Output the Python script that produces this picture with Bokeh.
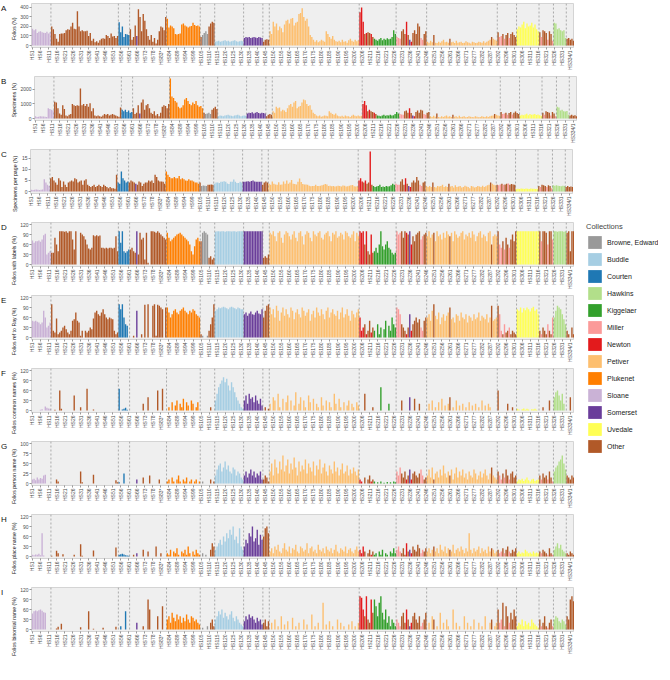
import math
from bokeh.plotting import figure
from bokeh.models import ColumnDataSource, FixedTicker, Span, Legend, LegendItem, Range1d, Title
from bokeh.layouts import column, row
from bokeh.embed import file_html
from bokeh.resources import INLINE
from bokeh.core.properties import value

FONT = "Liberation Sans"

# ---------------- data ----------------
collections = ["Browne, Edward", "Buddle", "Courten", "Hawkins", "Kiggelaer", "Miller",
               "Newton", "Petiver", "Plukenet", "Sloane", "Somerset", "Uvedale", "Other"]
colors = ["#999999", "#a6cee3", "#1f78b4", "#b2df8a", "#33a02c", "#fb9a99",
          "#e31a1c", "#fdbf6f", "#ff7f00", "#cab2d6", "#6a3d9a", "#ffff55", "#b15928"]

# collection of each volume, as runs (name, number of volumes)
collection_runs = [
    ("Sloane", 12), ("Other", 42), ("Courten", 7), ("Other", 4), ("Somerset", 1), ("Other", 18),
    ("Plukenet", 21), ("Other", 1), ("Browne, Edward", 4), ("Other", 4), ("Buddle", 18),
    ("Somerset", 12), ("Other", 4), ("Petiver", 56),
    ("Newton", 3), ("Other", 1), ("Newton", 1), ("Other", 2), ("Newton", 1), ("Other", 1),
    ("Kiggelaer", 14),
    ("Miller", 3), ("Other", 3), ("Newton", 1), ("Other", 1), ("Somerset", 1), ("Newton", 1),
    ("Other", 5), ("Miller", 2), ("Other", 2),
    ("Petiver", 4), ("Other", 1), ("Petiver", 9), ("Other", 1), ("Petiver", 25), ("Other", 1), ("Petiver", 3),
    ("Other", 1), ("Miller", 2), ("Other", 1), ("Miller", 1), ("Other", 2), ("Miller", 1), ("Other", 4),
    ("Uvedale", 14),
    ("Other", 1), ("Miller", 1), ("Other", 3), ("Miller", 1), ("Other", 2), ("Miller", 1),
    ("Hawkins", 8), ("Other", 5),
]

# sizes of the blocks of volumes used below for every panel's values
block_sizes = [12, 42, 7, 23, 21, 9, 18, 12, 4, 56, 9, 14, 19, 44, 12, 14, 9, 8, 5]

# first volume of each group separated by a dotted line
group_starts = [12, 54, 61, 84, 105, 114, 132, 144, 148, 204, 227, 246, 290, 302, 316, 325, 333]

tick_labels = ["HS1", "HS6", "HS11", "HS16", "HS21", "HS26", "HS31", "HS36", "HS41", "HS46", "HS51",
               "HS56", "HS61", "HS66", "HS73", "HS78", "HS83*", "HS84", "HS89", "HS94", "HS99",
               "HS105", "HS110", "HS115", "HS120", "HS125", "HS130", "HS135", "HS140", "HS145",
               "HS150", "HS155", "HS160", "HS165", "HS170", "HS175", "HS180", "HS185", "HS190",
               "HS195", "HS200", "HS206", "HS211", "HS216", "HS221", "HS226", "HS231", "HS236",
               "HS241", "HS246", "HS251", "HS256", "HS261", "HS266", "HS271", "HS277", "HS282",
               "HS287", "HS292", "HS296", "HS301", "HS306", "HS311", "HS316", "HS321", "HS326",
               "HS331", "HS334/1"]

folios_n = [
    [175, 160, 170, 130, 145, 150, 140, 135, 130, 145, 125, 140],
    [200, 170, 120, 70, 40, 120, 125, 125, 130, 160, 170, 165, 200, 240, 175, 170, 360, 200, 150, 160,
     150, 150, 155, 100, 130, 50, 70, 35, 45, 30, 55, 70, 75, 70, 110, 100, 80, 125, 95, 100, 80, 100],
    [245, 140, 200, 90, 120, 115, 110],
    [170, 60, 90, 210, 100, 380, 300, 150, 330, 260, 170, 100, 60, 110, 40, 80, 20, 60, 150, 200, 190, 160, 300],
    [280, 190, 210, 200, 180, 120, 115, 120, 125, 220, 230, 210, 200, 190, 200, 205, 240, 215, 205, 210, 200],
    [90, 110, 130, 150, 120, 200, 230, 250, 240],
    [40, 45, 50, 40, 45, 50, 55, 45, 50, 40, 45, 50, 55, 45, 40, 45, 50, 45],
    [80, 90, 85, 90, 80, 85, 90, 85, 80, 90, 85, 80],
    [40, 60, 65, 60],
    [150, 120, 250, 200, 230, 160, 200, 180, 140, 220, 260, 270, 230, 280, 290, 210, 240, 250, 330, 340,
     390, 300, 260, 280, 200, 110, 90, 60, 40, 55, 35, 45, 60, 50, 40, 150, 120, 90, 70, 100,
     60, 45, 40, 50, 35, 60, 40, 45, 30, 55, 70, 50, 40, 60, 45, 55],
    [350, 400, 250, 120, 130, 140, 130, 120, 90],
    [70, 60, 50, 65, 80, 55, 70, 60, 75, 65, 70, 90, 160, 120],
    [90, 80, 70, 150, 170, 120, 250, 110, 60, 40, 130, 160, 120, 230, 200, 80, 60, 120, 150],
    [40, 30, 50, 35, 110, 30, 25, 40, 30, 45, 60, 35, 40, 30, 70, 35, 40, 25, 50, 30,
     35, 40, 25, 30, 45, 35, 30, 20, 40, 35, 25, 30, 40, 35, 30, 45, 30, 40, 50, 60, 90, 70, 60, 50],
    [140, 90, 100, 120, 70, 110, 130, 80, 120, 140, 110, 90],
    [170, 200, 190, 220, 250, 180, 230, 200, 210, 240, 190, 220, 170, 150],
    [140, 90, 160, 150, 130, 60, 150, 120, 50],
    [240, 230, 170, 180, 160, 150, 160, 80],
    [70, 80, 60, 70, 50],
]

specimens_n = [
    [150, 100, 120, 150, 130, 140, 120, 100, 700, 650, 600, 550],
    [1150, 1100, 700, 350, 250, 900, 650, 200, 150, 250, 300, 1000, 900, 850, 900, 880, 2050, 900, 1000, 850,
     1000, 800, 1050, 500, 700, 200, 150, 200, 150, 120, 200, 300, 250, 300, 200, 250, 300, 250, 200, 150, 120, 750],
    [600, 500, 600, 450, 550, 400, 450],
    [700, 300, 400, 900, 350, 1100, 1300, 600, 900, 1000, 700, 400, 300, 500, 200, 300, 150, 400, 800, 900, 850, 700, 1000],
    [2740, 1500, 1400, 1200, 1100, 800, 700, 750, 900, 1300, 1400, 1200, 1000, 900, 1100, 1000, 1200, 900, 800, 850, 700],
    [400, 300, 350, 400, 300, 600, 700, 800, 650],
    [150, 200, 180, 150, 200, 220, 250, 200, 180, 150, 200, 220, 250, 200, 150, 180, 200, 190],
    [350, 400, 380, 420, 350, 400, 450, 380, 350, 400, 380, 350],
    [150, 250, 300, 250],
    [500, 400, 800, 700, 750, 500, 600, 550, 450, 700, 900, 1000, 800, 1100, 1200, 700, 800, 850, 1100, 1300,
     1250, 1000, 850, 900, 600, 400, 300, 200, 150, 200, 120, 150, 200, 180, 150, 500, 400, 300, 250, 350,
     200, 150, 130, 180, 120, 200, 150, 160, 100, 180, 250, 180, 150, 200, 150, 180],
    [1000, 1200, 900, 500, 600, 500, 450, 400, 300],
    [200, 180, 150, 200, 250, 180, 220, 200, 250, 200, 220, 300, 450, 350],
    [300, 280, 250, 500, 550, 400, 700, 380, 200, 150, 450, 550, 400, 600, 550, 300, 250, 400, 450],
    [150, 100, 180, 120, 350, 100, 90, 150, 100, 160, 200, 120, 150, 100, 250, 120, 150, 90, 180, 100,
     120, 150, 90, 100, 160, 120, 100, 80, 150, 120, 90, 100, 150, 120, 100, 160, 100, 150, 180, 200, 300, 250, 200, 180],
    [450, 300, 350, 400, 250, 380, 450, 280, 400, 480, 380, 300],
    [200, 250, 230, 280, 320, 220, 300, 250, 270, 310, 240, 280, 220, 180],
    [400, 250, 500, 450, 400, 200, 450, 350, 150],
    [800, 750, 550, 600, 500, 480, 520, 250],
    [200, 250, 180, 220, 150],
]

specimens_per_page = [
    [0.8, 0.7, 0.8, 0.9, 0.8, 0.7, 0.8, 0.9, 5.5, 4.0, 3.0, 2.5],
    [6.0, 6.5, 5.0, 4.0, 3.0, 6.0, 5.0, 2.0, 4.5, 3.0, 2.0, 4.0, 4.5, 5.0, 4.5, 6.0, 5.5, 4.0, 4.5, 5.0,
     3.0, 5.0, 5.5, 3.0, 2.5, 2.0, 2.5, 3.0, 2.0, 2.5, 3.0, 2.5, 2.0, 3.0, 2.5, 2.0, 1.5, 2.0, 1.5, 1.5, 1.2, 7.5],
    [4.0, 3.5, 9.0, 6.0, 5.0, 4.0, 4.5],
    [4.0, 5.0, 4.5, 4.0, 3.5, 3.0, 4.5, 4.0, 2.5, 3.5, 4.0, 4.0, 5.0, 4.5, 5.0, 3.8, 7.5, 6.5, 5.0, 4.5, 4.5, 4.4, 3.5],
    [9.0, 7.5, 6.5, 6.0, 6.0, 6.5, 6.0, 6.0, 7.0, 5.5, 6.0, 5.5, 5.0, 4.8, 5.5, 5.0, 5.0, 4.5, 4.0, 4.1, 3.5],
    [4.0, 2.5, 2.7, 2.6, 2.5, 3.0, 3.0, 3.2, 3.0],
    [3.5, 4.0, 4.0, 3.8, 4.4, 4.4, 4.6, 4.4, 3.6, 3.4, 4.4, 4.4, 5.4, 4.4, 3.8, 3.8, 4.4, 4.0],
    [4.4, 4.4, 4.5, 4.6, 4.4, 4.7, 5.0, 4.5, 4.4, 4.4, 4.4, 4.4],
    [3.0, 4.0, 4.5, 4.0],
    [3.5, 3.0, 4.5, 3.5, 3.2, 3.0, 4.2, 3.0, 3.2, 4.5, 3.5, 5.0, 3.5, 4.0, 5.2, 3.5, 3.4, 3.2, 4.4, 5.8,
     4.3, 3.4, 3.2, 3.1, 3.0, 2.6, 2.4, 2.5, 2.5, 3.0, 2.5, 2.5, 2.6, 2.8, 3.0, 3.4, 3.2, 2.5, 2.6, 2.4,
     2.5, 2.3, 2.4, 2.6, 2.5, 2.3, 2.7, 2.6, 2.2, 2.4, 2.6, 2.8, 2.9, 2.4, 2.3, 2.4],
    [5.0, 6.0, 4.5, 4.0, 5.0, 3.5, 4.0, 18.0, 3.0],
    [2.5, 2.0, 2.2, 2.5, 3.0, 2.0, 2.3, 2.0, 2.5, 2.2, 2.4, 2.8, 3.5, 3.0],
    [3.5, 3.0, 3.0, 4.5, 5.5, 3.0, 6.0, 3.5, 2.5, 2.0, 4.0, 5.0, 4.0, 6.5, 5.0, 3.0, 2.5, 4.0, 4.5],
    [2.5, 2.0, 2.5, 2.0, 4.0, 2.0, 1.8, 2.5, 2.2, 2.5, 3.0, 2.0, 2.4, 2.0, 3.5, 2.2, 2.5, 1.8, 2.8, 2.0,
     2.2, 2.5, 1.8, 2.0, 2.6, 2.2, 2.0, 1.5, 2.5, 2.2, 1.8, 2.0, 2.5, 2.2, 2.0, 2.6, 2.0, 2.4, 2.8, 3.0, 4.0, 3.5, 3.0, 2.8],
    [3.0, 2.8, 3.2, 3.5, 3.0, 3.2, 3.5, 3.6, 3.0, 3.4, 3.2, 3.0],
    [1.0, 1.2, 1.1, 1.3, 1.2, 1.1, 1.3, 1.2, 1.1, 1.3, 1.2, 1.2, 1.1, 1.2],
    [2.5, 2.0, 3.0, 2.8, 2.5, 2.0, 2.8, 2.5, 1.5],
    [2.8, 2.6, 2.8, 2.6, 2.5, 2.4, 2.6, 2.5],
    [2.0, 2.5, 2.0, 2.2, 2.0],
]

pct_labels = [
    [72, 65, 70, 70, 72, 68, 75, 88, 92, 30, 35, 40],
    [35, 35, 80, 60, 40, 100, 100, 100, 98, 100, 95, 100, 100, 75, 45, 100, 0, 0, 95, 90,
     85, 75, 60, 48, 45, 50, 88, 85, 88, 85, 87, 50, 50, 48, 50, 48, 50, 50, 48, 50, 85, 40],
    [100, 65, 100, 40, 35, 40, 45],
    [45, 50, 40, 35, 100, 30, 95, 75, 80, 15, 95, 5, 0, 100, 100, 98, 95, 100, 95, 90, 85, 80, 75],
    [95, 80, 70, 75, 80, 85, 90, 92, 95, 90, 85, 80, 75, 70, 60, 40, 30, 55, 75, 80, 70],
    [70, 95, 100, 95, 90, 20, 25, 15, 20],
    [98, 100, 100, 99, 100, 100, 98, 100, 100, 100, 99, 100, 100, 98, 100, 100, 100, 100],
    [100, 100, 100, 100, 100, 100, 100, 100, 100, 100, 100, 100],
    [20, 25, 20, 30],
    [95, 90, 100, 85, 70, 95, 100, 80, 65, 90, 100, 95, 85, 75, 90, 100, 80, 70, 95, 100,
     85, 60, 90, 100, 95, 80, 70, 100, 90, 85, 95, 100, 80, 75, 90, 95, 100, 85, 70, 95,
     90, 100, 80, 85, 95, 90, 75, 100, 95, 85, 80, 90, 100, 70, 95, 85],
    [100, 95, 100, 60, 100, 40, 30, 90, 35],
    [40, 50, 35, 60, 100, 55, 45, 60, 70, 50, 45, 35, 30, 35],
    [100, 90, 95, 100, 80, 100, 95, 90, 100, 60, 85, 70, 90, 95, 100, 75, 85, 90, 95],
    [85, 100, 80, 90, 95, 70, 100, 85, 90, 75, 95, 80, 100, 90, 85, 95, 70, 100, 90, 80,
     85, 95, 100, 75, 90, 85, 95, 80, 100, 90, 70, 85, 95, 100, 80, 90, 85, 70, 95, 100, 60, 85, 90, 85],
    [100, 60, 50, 70, 45, 80, 60, 50, 75, 90, 70, 100],
    [100, 100, 100, 100, 100, 100, 100, 100, 100, 100, 100, 100, 100, 100],
    [100, 70, 100, 100, 95, 60, 100, 100, 75],
    [100, 100, 98, 100, 100, 100, 98, 100],
    [95, 100, 40, 100, 100],
]

pct_ray = [
    [50, 48, 50, 47, 45, 40, 45, 80, 60, 30, 35, 45],
    [100, 20, 15, 57, 10, 15, 20, 30, 35, 25, 15, 10, 20, 50, 55, 75, 50, 45, 5, 20,
     0, 20, 15, 20, 30, 25, 57, 75, 80, 70, 65, 75, 85, 70, 60, 55, 60, 57, 55, 20, 10, 15],
    [100, 85, 100, 60, 40, 35, 0],
    [0, 0, 5, 0, 80, 0, 0, 10, 0, 98, 0, 100, 0, 0, 95, 100, 5, 98, 95, 90, 85, 0, 90],
    [90, 75, 60, 70, 80, 85, 75, 70, 80, 85, 90, 80, 75, 70, 80, 75, 85, 80, 70, 65, 60],
    [10, 5, 0, 0, 5, 20, 40, 60, 100],
    [80, 85, 90, 88, 90, 92, 90, 88, 85, 90, 92, 90, 88, 85, 90, 88, 85, 85],
    [70, 75, 65, 72, 78, 70, 68, 75, 80, 72, 70, 85],
    [60, 80, 95, 100],
    [90, 70, 85, 60, 95, 80, 50, 75, 90, 65, 85, 70, 60, 90, 80, 55, 75, 85, 70, 60,
     90, 80, 65, 75, 85, 50, 70, 80, 60, 90, 75, 65, 85, 70, 55, 80, 90, 60, 75, 85,
     70, 65, 80, 55, 75, 90, 60, 70, 85, 65, 50, 80, 70, 60, 75, 85],
    [60, 20, 30, 40, 10, 20, 50, 15, 30],
    [20, 0, 40, 10, 30, 0, 25, 50, 0, 35, 20, 60, 40, 30],
    [90, 85, 70, 40, 30, 20, 10, 30, 70, 20, 40, 50, 60, 45, 55, 30, 20, 50, 60],
    [60, 70, 50, 80, 100, 65, 55, 75, 40, 60, 70, 50, 65, 75, 90, 55, 60, 45, 70, 65,
     50, 75, 60, 55, 70, 45, 65, 60, 50, 70, 55, 60, 75, 50, 65, 60, 55, 70, 45, 60, 95, 50, 55, 60],
    [95, 70, 20, 10, 40, 15, 20, 30, 10, 20, 15, 10],
    [85, 80, 90, 75, 88, 82, 90, 85, 78, 88, 92, 80, 85, 70],
    [20, 10, 30, 20, 10, 40, 20, 10, 60],
    [60, 80, 95, 90, 85, 70, 55, 40],
    [20, 10, 0, 30, 10],
]

pct_common = [
    [0, 0, 0, 0, 0, 2, 4, 0, 12, 8, 6, 5],
    [0, 0, 2, 0, 0, 60, 5, 0, 0, 0, 0, 0, 0, 0, 45, 0, 0, 0, 10, 0,
     0, 0, 65, 0, 0, 0, 3, 0, 0, 0, 0, 0, 0, 0, 0, 0, 0, 0, 0, 0, 0, 0],
    [65, 0, 3, 5, 8, 2, 0],
    [0, 0, 0, 0, 0, 0, 0, 0, 20, 0, 0, 40, 0, 0, 0, 0, 0, 60, 0, 0, 65, 0, 0],
    [0, 10, 0, 25, 0, 15, 30, 0, 20, 10, 35, 0, 25, 15, 0, 30, 20, 0, 10, 25, 0],
    [0, 0, 0, 0, 0, 0, 10, 0, 0],
    [30, 50, 70, 80, 90, 100, 85, 95, 75, 60, 85, 70, 55, 40, 30, 20, 10, 5],
    [30, 45, 20, 50, 35, 40, 25, 45, 30, 20, 35, 15],
    [0, 10, 0, 5],
    [20, 0, 40, 30, 0, 50, 10, 0, 35, 0, 25, 45, 0, 30, 0, 15, 55, 0, 20, 40,
     0, 30, 10, 0, 45, 25, 0, 35, 0, 20, 10, 0, 40, 15, 0, 30, 0, 25, 10, 0,
     50, 20, 0, 35, 10, 0, 25, 0, 15, 30, 0, 20, 10, 0, 25, 15],
    [0, 0, 0, 50, 0, 0, 0, 0, 10],
    [0, 0, 0, 0, 70, 0, 0, 0, 0, 20, 0, 0, 0, 0],
    [0, 0, 0, 30, 0, 0, 0, 0, 40, 0, 0, 35, 0, 0, 20, 0, 0, 0, 0],
    [0, 20, 0, 30, 0, 10, 0, 25, 0, 35, 0, 15, 0, 20, 40, 0, 10, 0, 30, 0,
     15, 0, 20, 0, 10, 0, 25, 0, 15, 0, 20, 0, 10, 0, 30, 0, 15, 0, 20, 10, 0, 0, 0, 0],
    [60, 0, 0, 0, 0, 0, 20, 0, 0, 10, 0, 0],
    [5, 3, 0, 4, 6, 2, 5, 3, 0, 4, 3, 5, 2, 0],
    [0, 0, 10, 0, 0, 0, 30, 0, 0],
    [40, 55, 60, 45, 30, 50, 20, 0],
    [0, 0, 40, 0, 0],
]

pct_person = [
    [10, 12, 8, 15, 10, 14, 12, 20, 22, 0, 0, 0],
    [0, 0, 0, 10, 5, 0, 0, 0, 0, 0, 0, 0, 0, 0, 0, 0, 0, 0, 30, 3,
     0, 0, 0, 0, 0, 0, 22, 0, 0, 0, 0, 0, 0, 0, 0, 0, 0, 0, 0, 0, 8, 3],
    [3, 0, 0, 25, 0, 0, 0],
    [0, 0, 0, 0, 10, 0, 0, 0, 15, 0, 0, 0, 20, 0, 0, 0, 0, 0, 10, 0, 0, 0, 0],
    [5, 10, 0, 15, 5, 0, 10, 20, 5, 0, 10, 5, 15, 0, 5, 10, 0, 5, 10, 0, 5],
    [0, 5, 0, 0, 0, 0, 10, 0, 5],
    [20, 35, 45, 50, 30, 40, 55, 35, 45, 30, 25, 40, 35, 20, 30, 25, 15, 10],
    [20, 30, 15, 25, 35, 20, 30, 15, 25, 20, 30, 10],
    [10, 20, 15, 5],
    [30, 50, 20, 60, 40, 25, 55, 35, 70, 30, 45, 60, 25, 50, 35, 65, 40, 20, 55, 30,
     45, 35, 60, 25, 50, 40, 30, 55, 20, 45, 35, 60, 25, 40, 50, 30, 20, 45, 35, 25,
     55, 30, 40, 20, 35, 50, 25, 30, 45, 20, 35, 25, 40, 30, 20, 35],
    [10, 5, 0, 15, 0, 10, 20, 5, 10],
    [5, 0, 3, 0, 5, 0, 2, 0, 4, 0, 3, 0, 5, 3],
    [30, 20, 40, 25, 15, 30, 10, 20, 35, 10, 25, 30, 20, 15, 25, 35, 20, 10, 15],
    [20, 35, 15, 40, 10, 25, 30, 15, 35, 20, 45, 25, 15, 30, 20, 35, 10, 25, 40, 15,
     30, 20, 35, 15, 25, 10, 30, 20, 15, 35, 25, 10, 20, 30, 15, 25, 35, 20, 10, 25, 40, 20, 15, 10],
    [30, 20, 10, 25, 15, 35, 20, 10, 25, 30, 15, 20],
    [5, 10, 8, 12, 6, 10, 15, 8, 5, 10, 12, 6, 8, 10],
    [20, 10, 25, 15, 20, 10, 30, 15, 5],
    [30, 40, 45, 55, 60, 70, 50, 35],
    [20, 15, 10, 20, 15],
]

pct_place = [
    [5, 4, 6, 5, 8, 4, 70, 3, 0, 0, 0, 0],
    [2, 0, 0, 17, 10, 0, 0, 7, 0, 0, 0, 0, 0, 0, 5, 0, 0, 0, 37, 2,
     0, 0, 0, 0, 0, 0, 18, 0, 0, 0, 0, 0, 0, 0, 0, 0, 0, 0, 0, 0, 27, 0],
    [5, 7, 8, 6, 4, 3, 2],
    [0, 0, 5, 0, 10, 0, 0, 0, 20, 0, 0, 15, 0, 0, 0, 0, 30, 0, 0, 10, 0, 0, 0],
    [10, 5, 20, 0, 15, 10, 25, 5, 0, 15, 10, 20, 5, 30, 10, 0, 15, 5, 20, 10, 5],
    [0, 10, 0, 5, 0, 0, 20, 40, 30],
    [20, 30, 40, 50, 35, 60, 45, 70, 55, 80, 65, 90, 50, 60, 40, 85, 30, 20],
    [30, 50, 40, 70, 60, 90, 45, 55, 80, 35, 65, 50],
    [60, 85, 90, 70],
    [15, 25, 10, 30, 20, 35, 15, 10, 25, 40, 20, 15, 30, 10, 25, 20, 35, 15, 10, 30,
     25, 15, 20, 40, 10, 25, 30, 15, 20, 10, 35, 20, 15, 25, 10, 30, 20, 15, 25, 10,
     20, 35, 15, 10, 25, 20, 15, 30, 10, 20, 25, 15, 10, 20, 30, 15],
    [20, 10, 30, 15, 0, 10, 20, 5, 15],
    [5, 10, 0, 15, 5, 20, 0, 10, 5, 0, 15, 10, 25, 10],
    [20, 30, 15, 10, 25, 5, 40, 15, 20, 10, 30, 20, 15, 35, 25, 10, 20, 15, 25],
    [15, 25, 10, 20, 30, 15, 25, 10, 35, 20, 15, 30, 10, 25, 20, 15, 35, 10, 20, 25,
     15, 30, 20, 10, 25, 15, 70, 20, 10, 25, 15, 20, 30, 10, 25, 15, 20, 10, 30, 15, 25, 20, 10, 15],
    [20, 10, 15, 25, 10, 20, 30, 15, 10, 20, 15, 25],
    [10, 15, 8, 12, 10, 20, 15, 10, 12, 8, 15, 10, 12, 10],
    [15, 10, 20, 15, 10, 5, 25, 10, 5],
    [20, 30, 40, 25, 35, 20, 15, 10],
    [10, 5, 15, 10, 5],
]

pct_binomial = [
    [48, 55, 57, 55, 58, 60, 56, 52, 50, 0, 0, 0],
    [0, 0, 0, 3, 8, 0, 17, 0, 0, 0, 0, 0, 0, 0, 0, 0, 0, 0, 7, 0,
     0, 0, 0, 55, 0, 0, 2, 0, 0, 0, 0, 0, 5, 0, 0, 0, 0, 0, 0, 0, 8, 0],
    [0, 10, 0, 0, 55, 0, 0],
    [0, 0, 0, 0, 20, 0, 0, 0, 10, 0, 0, 90, 60, 0, 0, 0, 0, 40, 0, 0, 70, 0, 0],
    [30, 40, 20, 50, 35, 25, 45, 30, 40, 20, 35, 25, 45, 30, 20, 40, 35, 25, 30, 20, 15],
    [0, 5, 0, 0, 10, 0, 20, 30, 10],
    [30, 40, 55, 45, 60, 35, 50, 40, 30, 45, 55, 35, 25, 40, 30, 20, 15, 10],
    [25, 40, 30, 45, 35, 40, 30, 20, 35, 25, 30, 15],
    [20, 30, 10, 25],
    [0, 20, 0, 30, 0, 10, 0, 40, 0, 15, 0, 25, 0, 0, 35, 0, 10, 0, 20, 0,
     0, 30, 0, 15, 0, 0, 45, 0, 10, 0, 20, 0, 0, 80, 0, 15, 0, 25, 0, 10,
     0, 0, 30, 0, 20, 0, 10, 0, 0, 15, 0, 25, 0, 10, 0, 20],
    [100, 95, 60, 40, 100, 30, 20, 90, 50],
    [90, 70, 40, 80, 100, 50, 30, 60, 20, 40, 10, 30, 20, 10],
    [30, 20, 10, 40, 50, 20, 60, 30, 10, 20, 40, 50, 30, 20, 40, 10, 20, 30, 50],
    [0, 20, 0, 40, 30, 0, 10, 0, 50, 0, 20, 0, 30, 10, 0, 0, 60, 0, 20, 0,
     10, 0, 0, 40, 0, 20, 0, 10, 0, 30, 0, 0, 20, 0, 10, 0, 40, 0, 0, 20, 30, 0, 10, 20],
    [60, 20, 30, 80, 10, 70, 40, 20, 50, 30, 60, 40],
    [10, 20, 15, 30, 10, 25, 15, 20, 10, 30, 20, 15, 10, 5],
    [30, 10, 20, 40, 10, 5, 20, 30, 10],
    [30, 40, 35, 25, 20, 30, 25, 15],
    [40, 30, 90, 100, 85],
]

panels = [
    ("A", "Folios (N)", folios_n, (-21, 441), [0, 100, 200, 300, 400]),
    ("B", "Specimens (N)", specimens_n, (-137, 2877), [0, 1000, 2000]),
    ("C", "Specimens per page (N)", specimens_per_page, (-0.9, 18.9), [0, 5, 10, 15]),
    ("D", "Folios with labels (%)", pct_labels, (-6, 126), [0, 30, 60, 90, 120]),
    ("E", "Folios ref to Ray (%)", pct_ray, (-6, 126), [0, 30, 60, 90, 120]),
    ("F", "Folios common names (%)", pct_common, (-6, 126), [0, 30, 60, 90, 120]),
    ("G", "Folios person name (%)", pct_person, (-5, 105), [0, 25, 50, 75, 100]),
    ("H", "Folios place name (%)", pct_place, (-6, 126), [0, 30, 60, 90, 120]),
    ("I", "Folios binomial name (%)", pct_binomial, (-6, 126), [0, 30, 60, 90, 120]),
]

# ---------------- checks ----------------
problems = []
if sum(n for _, n in collection_runs) != sum(block_sizes):
    problems.append("runs %d vs blocks %d" % (sum(n for _, n in collection_runs), sum(block_sizes)))
for letter, _, blocks, _, _ in panels:
    if len(blocks) != len(block_sizes):
        problems.append("%s: %d blocks" % (letter, len(blocks)))
        continue
    for k, (b, n) in enumerate(zip(blocks, block_sizes)):
        if len(b) != n:
            problems.append("%s block %d: %d != %d" % (letter, k, len(b), n))
if problems:
    raise ValueError("; ".join(problems))

N = sum(block_sizes)
color_of = dict(zip(collections, colors))
bar_coll = [name for name, n in collection_runs for _ in range(n)]
bar_color = [color_of[c] for c in bar_coll]
xs = list(range(N))

FRAME_W = 543
FRAME_H = 44
TOP = 3
BOTTOM = 26
PANEL_H = TOP + FRAME_H + BOTTOM
SIDE_W = 8
BORDER_L = 22
TITLE_PX = 5.2
CHAR_W = 0.56 * TITLE_PX

rows = []
for letter, title, blocks, (lo, hi), yt in panels:
    vals = [v for b in blocks for v in b]
    src = ColumnDataSource(dict(x=xs, v=vals, c=bar_color, coll=bar_coll))
    p = figure(frame_width=FRAME_W, frame_height=FRAME_H,
               x_range=Range1d(-0.6, N - 0.4), y_range=Range1d(lo, hi),
               output_backend="svg", toolbar_location=None,
               min_border_left=BORDER_L, min_border_right=0, min_border_top=TOP, min_border_bottom=BOTTOM,
               background_fill_color="#efefef", outline_line_color="#d4d4d4", border_fill_color="white")
    p.vbar(x="x", top="v", bottom=0, width=0.86, fill_color="c", line_color=None, source=src)
    for s in group_starts:
        p.add_layout(Span(location=s - 0.5, dimension="height", line_color="#7a7a7a",
                          line_dash="2 2", line_width=0.6))
    p.grid.visible = False
    p.xaxis.ticker = FixedTicker(ticks=[i * 5 for i in range(len(tick_labels))])
    p.xaxis.major_label_overrides = {i * 5: lab for i, lab in enumerate(tick_labels)}
    p.xaxis.major_label_orientation = math.pi / 2
    p.yaxis.ticker = FixedTicker(ticks=yt)
    for ax in (p.xaxis[0], p.yaxis[0]):
        ax.axis_line_color = None
        ax.major_tick_line_color = "#555555"
        ax.major_tick_line_width = 0.6
        ax.major_tick_out = 2
        ax.major_tick_in = 0
        ax.minor_tick_line_color = None
        ax.major_label_text_font_size = "5px"
        ax.major_label_text_font = FONT
        ax.major_label_text_color = "#4d4d4d"
        ax.major_label_standoff = 1

    # y title: a left title starting near the frame bottom, centred where there is room,
    # otherwise pushed down into the tick-label band so that it is never cut at the top
    est_len = len(title) * CHAR_W
    start = min(FRAME_H / 2 - est_len / 2, FRAME_H + TOP - 1.5 - est_len)
    p.add_layout(Title(text=title, align="left", offset=start, standoff=1,
                       text_font_size="%.1fpx" % TITLE_PX, text_font=FONT, text_font_style="normal",
                       text_color="#222222"), "left")

    # side strip with the panel letter
    s = figure(width=SIDE_W, height=PANEL_H, x_range=Range1d(0, SIDE_W), y_range=Range1d(0, FRAME_H),
               output_backend="svg", toolbar_location=None, min_border=0,
               outline_line_color=None, x_axis_location=None, y_axis_location=None)
    s.grid.visible = False
    s.text(x=[0.5], y=[FRAME_H - 5], text=[letter], text_font=value(FONT),
           text_font_size=value("8px"), text_align="left", text_baseline="middle", text_color="#111111")
    rows.append(row(s, p))

# legend panel
lg = figure(width=81, height=PANEL_H * len(panels), x_range=Range1d(0, 1), y_range=Range1d(0, 1),
            output_backend="svg", toolbar_location=None, min_border=0,
            outline_line_color=None, x_axis_location=None, y_axis_location=None)
lg.grid.visible = False
items = []
for name, col in zip(collections, colors):
    r = lg.vbar(x=[5], top=[6], bottom=[5], width=0.5, fill_color=col, line_color=None)
    items.append(LegendItem(label=name, renderers=[r]))
leg = Legend(items=items, location=(9, PANEL_H * len(panels) // 2 - 125), title="Collections",
             glyph_width=17, glyph_height=16, label_height=16, spacing=1,
             padding=0, margin=0, label_standoff=4,
             label_text_font_size="7px", label_text_font=FONT, label_text_color="#222222",
             title_text_font_size="7.5px", title_text_font=FONT, title_text_font_style="normal",
             title_standoff=3, border_line_color=None, background_fill_alpha=0)
lg.add_layout(leg)

layout = row(column(*rows), lg)
open("out.html", "w").write(file_html(layout, INLINE))
